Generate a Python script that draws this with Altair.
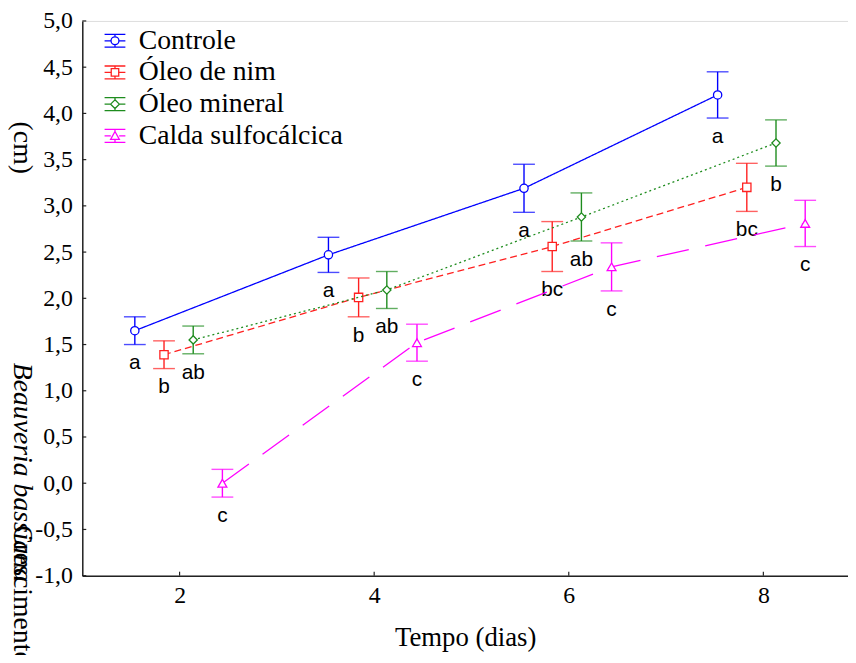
import altair as alt
import pandas as pd

# ---------------- data ----------------
series = ["Controle", "Óleo de nim", "Óleo mineral", "Calda sulfocálcica"]
colors = ["#0000FF", "#FF2020", "#1E8C1E", "#FF00FF"]

x_controle = [1.54, 3.53, 5.54, 7.53]
x_nim = [1.84, 3.84, 5.83, 7.83]
x_mineral = [2.14, 4.13, 6.13, 8.13]
x_calda = [2.44, 4.44, 6.44, 8.43]

y_controle = [1.65, 2.47, 3.19, 4.20]
y_nim = [1.39, 2.01, 2.56, 3.20]
y_mineral = [1.55, 2.09, 2.88, 3.68]
y_calda = [0.00, 1.52, 2.34, 2.81]

e_controle = [0.15, 0.19, 0.26, 0.25]
e_nim = [0.15, 0.21, 0.27, 0.26]
e_mineral = [0.15, 0.20, 0.26, 0.25]
e_calda = [0.15, 0.20, 0.26, 0.25]

l_controle = ["a", "a", "a", "a"]
l_nim = ["b", "b", "bc", "bc"]
l_mineral = ["ab", "ab", "ab", "b"]
l_calda = ["c", "c", "c", "c"]

x_ticks = [2, 4, 6, 8]
y_ticks = [-1.0, -0.5, 0.0, 0.5, 1.0, 1.5, 2.0, 2.5, 3.0, 3.5, 4.0, 4.5, 5.0]

# ---------------- styling ----------------
W, H = 773, 560
SERIF = "Liberation Serif"
SANS = "Liberation Sans"
shapes = ["circle", "square", "diamond", "triangle-up"]
dashes = [[1, 0], [7, 4], [2, 3], [33, 17]]
leg_paths = [
    "M-1,-0.62H1M-1,0.62H1M0,-0.62V-0.38M0,0.38V0.62M-1,0H-0.38M0.38,0H1"
    "M-0.38,0A0.38,0.38 0 1,0 0.38,0A0.38,0.38 0 1,0 -0.38,0Z",
    "M-1,-0.62H1M-1,0.62H1M0,-0.62V-0.36M0,0.36V0.62M-1,0H-0.36M0.36,0H1"
    "M-0.36,-0.36H0.36V0.36H-0.36Z",
    "M-1,-0.62H1M-1,0.62H1M0,-0.62V-0.42M0,0.42V0.62M-1,0H-0.42M0.42,0H1"
    "M0,-0.42L0.42,0L0,0.42L-0.42,0Z",
    "M-1,-0.62H1M-1,0.62H1M0,-0.62V-0.42M0,0.34V0.62M-1,0H-0.4M0.4,0H1"
    "M0,-0.42L0.42,0.34H-0.42Z",
]
LEG_X, LEG_Y, LEG_STEP, LEG_TXT_X = 33, 20, 32, 57

xs = [x_controle, x_nim, x_mineral, x_calda]
ys = [y_controle, y_nim, y_mineral, y_calda]
es = [e_controle, e_nim, e_mineral, e_calda]
ls = [l_controle, l_nim, l_mineral, l_calda]

xscale = alt.Scale(domain=[1.0, 8.87], nice=False, zero=False)
yscale = alt.Scale(domain=[-1.0, 5.0], nice=False, zero=False)

x_axis = alt.Axis(
    values=x_ticks, ticks=False, grid=False, title="Tempo (dias)", format="d",
    labelFont=SERIF, labelFontSize=24, labelColor="black",
    labelPadding=8, titleFont=SERIF, titleFontSize=27,
    titleFontWeight="normal", titleColor="black", titlePadding=17,
    domainColor="#222222", domainWidth=1.5,
)
y_axis = alt.Axis(
    values=y_ticks, ticks=False, grid=False, title=None,
    labelFont=SERIF, labelFontSize=24, labelColor="black",
    labelPadding=10,
    labelExpr="replace(replace(format(datum.value, '.1f'), '.', ','), '\u2212', '-')",
    domainColor="#222222", domainWidth=1.5,
)

layers = []

# frame / axes
base_ax = alt.Chart(pd.DataFrame({"x": [1.0], "y": [-1.0]})).mark_point(opacity=0).encode(
    x=alt.X("x:Q", scale=xscale, axis=x_axis),
    y=alt.Y("y:Q", scale=yscale, axis=y_axis),
)
layers.append(base_ax)

# inward tick marks
xt = alt.Chart(pd.DataFrame({"t": x_ticks})).mark_rule(color="#222222", strokeWidth=1.2).encode(
    x=alt.X("t:Q", scale=xscale), y=alt.value(H), y2=alt.value(H - 4)
)
yt = alt.Chart(pd.DataFrame({"t": y_ticks})).mark_rule(color="#222222", strokeWidth=1.2).encode(
    y=alt.Y("t:Q", scale=yscale), x=alt.value(0), x2=alt.value(4)
)
layers += [xt, yt]

# series
for i, name in enumerate(series):
    df = pd.DataFrame({
        "x": xs[i], "y": ys[i],
        "lo": [a - b for a, b in zip(ys[i], es[i])],
        "hi": [a + b for a, b in zip(ys[i], es[i])],
        "lab": ls[i], "ord": list(range(len(xs[i]))),
    })
    c = colors[i]
    line = alt.Chart(df).mark_line(color=c, strokeWidth=1.3, strokeDash=dashes[i]).encode(
        x=alt.X("x:Q", scale=xscale), y=alt.Y("y:Q", scale=yscale), order="ord:Q"
    )
    rule = alt.Chart(df).mark_rule(color=c, strokeWidth=1.4).encode(
        x=alt.X("x:Q", scale=xscale), y=alt.Y("lo:Q", scale=yscale), y2="hi:Q"
    )
    cap_lo = alt.Chart(df).mark_tick(color=c, orient="horizontal", size=22, thickness=1.4).encode(
        x=alt.X("x:Q", scale=xscale), y=alt.Y("lo:Q", scale=yscale)
    )
    cap_hi = alt.Chart(df).mark_tick(color=c, orient="horizontal", size=22, thickness=1.4).encode(
        x=alt.X("x:Q", scale=xscale), y=alt.Y("hi:Q", scale=yscale)
    )
    pts = alt.Chart(df).mark_point(
        shape=shapes[i], filled=True, fill="white", stroke=c, strokeWidth=1.3,
        size=70 if shapes[i] != "triangle-up" else 80, opacity=1,
    ).encode(x=alt.X("x:Q", scale=xscale), y=alt.Y("y:Q", scale=yscale))
    txt = alt.Chart(df).mark_text(
        font=SANS, fontSize=21, color="black", baseline="middle", dy=19
    ).encode(x=alt.X("x:Q", scale=xscale), y=alt.Y("lo:Q", scale=yscale), text="lab:N")
    layers += [line, rule, cap_lo, cap_hi, pts, txt]

    # legend entry (drawn by hand so the serif font is honoured)
    leg = pd.DataFrame({"serie": [name]})
    sym = alt.Chart(leg).mark_point(
        shape=leg_paths[i], filled=False, stroke=c, strokeWidth=1.3, size=441, opacity=1
    ).encode(x=alt.value(LEG_X), y=alt.value(LEG_Y + LEG_STEP * i))
    lab = alt.Chart(leg).mark_text(
        font=SERIF, fontSize=28, color="black", align="left", baseline="middle"
    ).encode(text="serie:N", x=alt.value(LEG_TXT_X), y=alt.value(LEG_Y + LEG_STEP * i))
    layers += [sym, lab]

# y-axis title pieces (as in the reference)
yt1 = alt.Chart(pd.DataFrame({"t": ["(cm)"]})).mark_text(
    font=SERIF, fontSize=28, angle=90, align="center", baseline="middle", color="black"
).encode(text="t:N", x=alt.value(-61), y=alt.value(128))
yt2 = alt.Chart(pd.DataFrame({"t": ["Beauveria bassiana"]})).mark_text(
    font=SERIF, fontSize=28, fontStyle="italic", angle=90, align="left",
    baseline="middle", color="black"
).encode(text="t:N", x=alt.value(-61), y=alt.value(345))
yt3 = alt.Chart(pd.DataFrame({"t": ["Crescimento"]})).mark_text(
    font=SERIF, fontSize=28, angle=90, align="left", baseline="middle", color="black"
).encode(text="t:N", x=alt.value(-61), y=alt.value(509))
layers += [yt1, yt2, yt3]

chart = alt.layer(*layers).properties(
    width=W, height=H,
    autosize=alt.AutoSizeParams(type="none"),
    padding={"left": 75, "top": 10, "right": 0, "bottom": 77},
).configure_view(stroke=None).configure(background="white")

chart.save("out.html", embed_options={"renderer": "svg", "actions": False})
